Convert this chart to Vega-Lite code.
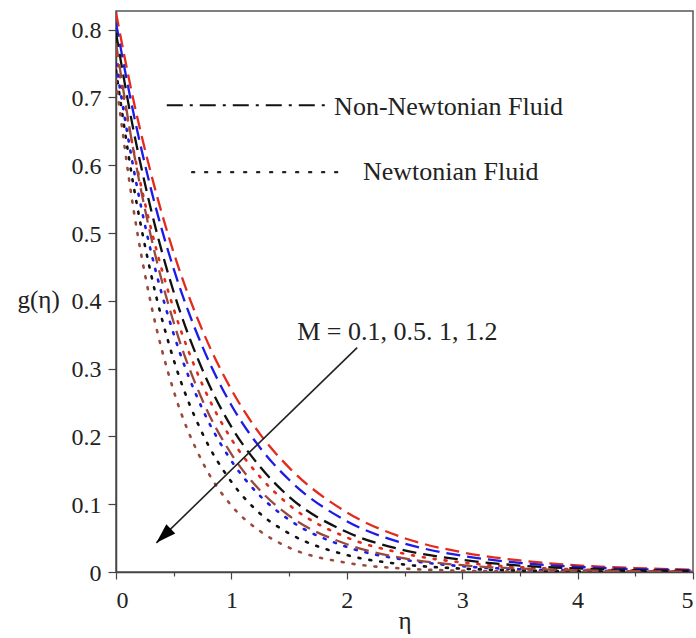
{
  "$schema": "https://vega.github.io/schema/vega-lite/v6.json",
  "width": 577,
  "height": 561,
  "autosize": {"type": "none"},
  "padding": {"left": 116, "top": 11, "right": 3, "bottom": 66},
  "background": "white",
  "config": {
    "view": {"stroke": "#555", "strokeWidth": 1.5},
    "font": "Liberation Serif, serif",
    "style": {"guide-label": {"font": "Liberation Serif, serif"}, "guide-title": {"font": "Liberation Serif, serif"}},
    "axis": {"grid": false, "domainColor": "#444", "domainWidth": 1.5, "tickColor": "#444", "tickWidth": 1.2, "labelColor": "#222", "titleColor": "#222", "labelFont": "Liberation Serif, serif", "titleFont": "Liberation Serif, serif", "labelFontSize": 24, "titleFontSize": 25, "titleFontWeight": "normal"},
    "axisX": {"labelFont": "Liberation Serif, serif", "titleFont": "Liberation Serif, serif"},
    "axisY": {"labelFont": "Liberation Serif, serif", "titleFont": "Liberation Serif, serif"}
  },
  "datasets": {
    "curves": [
      {"eta": 0, "g": 0.825, "M": "0.1", "fluid": "NN"},
      {"eta": 0.15, "g": 0.697, "M": "0.1", "fluid": "NN"},
      {"eta": 0.3, "g": 0.59, "M": "0.1", "fluid": "NN"},
      {"eta": 0.5, "g": 0.471, "M": "0.1", "fluid": "NN"},
      {"eta": 0.75, "g": 0.356, "M": "0.1", "fluid": "NN"},
      {"eta": 1, "g": 0.269, "M": "0.1", "fluid": "NN"},
      {"eta": 1.25, "g": 0.203, "M": "0.1", "fluid": "NN"},
      {"eta": 1.5, "g": 0.154, "M": "0.1", "fluid": "NN"},
      {"eta": 2, "g": 0.088, "M": "0.1", "fluid": "NN"},
      {"eta": 2.5, "g": 0.05, "M": "0.1", "fluid": "NN"},
      {"eta": 3, "g": 0.029, "M": "0.1", "fluid": "NN"},
      {"eta": 3.5, "g": 0.017, "M": "0.1", "fluid": "NN"},
      {"eta": 4, "g": 0.0098, "M": "0.1", "fluid": "NN"},
      {"eta": 4.5, "g": 0.0058, "M": "0.1", "fluid": "NN"},
      {"eta": 5, "g": 0.0035, "M": "0.1", "fluid": "NN"},

      {"eta": 0, "g": 0.81, "M": "0.5", "fluid": "NN"},
      {"eta": 0.15, "g": 0.678, "M": "0.5", "fluid": "NN"},
      {"eta": 0.3, "g": 0.567, "M": "0.5", "fluid": "NN"},
      {"eta": 0.5, "g": 0.447, "M": "0.5", "fluid": "NN"},
      {"eta": 0.75, "g": 0.332, "M": "0.5", "fluid": "NN"},
      {"eta": 1, "g": 0.246, "M": "0.5", "fluid": "NN"},
      {"eta": 1.25, "g": 0.183, "M": "0.5", "fluid": "NN"},
      {"eta": 1.5, "g": 0.136, "M": "0.5", "fluid": "NN"},
      {"eta": 2, "g": 0.075, "M": "0.5", "fluid": "NN"},
      {"eta": 2.5, "g": 0.042, "M": "0.5", "fluid": "NN"},
      {"eta": 3, "g": 0.024, "M": "0.5", "fluid": "NN"},
      {"eta": 3.5, "g": 0.0135, "M": "0.5", "fluid": "NN"},
      {"eta": 4, "g": 0.0076, "M": "0.5", "fluid": "NN"},
      {"eta": 4.5, "g": 0.0043, "M": "0.5", "fluid": "NN"},
      {"eta": 5, "g": 0.0024, "M": "0.5", "fluid": "NN"},

      {"eta": 0, "g": 0.795, "M": "1", "fluid": "NN"},
      {"eta": 0.15, "g": 0.653, "M": "1", "fluid": "NN"},
      {"eta": 0.3, "g": 0.537, "M": "1", "fluid": "NN"},
      {"eta": 0.5, "g": 0.413, "M": "1", "fluid": "NN"},
      {"eta": 0.75, "g": 0.298, "M": "1", "fluid": "NN"},
      {"eta": 1, "g": 0.214, "M": "1", "fluid": "NN"},
      {"eta": 1.25, "g": 0.155, "M": "1", "fluid": "NN"},
      {"eta": 1.5, "g": 0.111, "M": "1", "fluid": "NN"},
      {"eta": 2, "g": 0.059, "M": "1", "fluid": "NN"},
      {"eta": 2.5, "g": 0.032, "M": "1", "fluid": "NN"},
      {"eta": 3, "g": 0.018, "M": "1", "fluid": "NN"},
      {"eta": 3.5, "g": 0.0095, "M": "1", "fluid": "NN"},
      {"eta": 4, "g": 0.0052, "M": "1", "fluid": "NN"},
      {"eta": 4.5, "g": 0.0028, "M": "1", "fluid": "NN"},
      {"eta": 5, "g": 0.0015, "M": "1", "fluid": "NN"},

      {"eta": 0, "g": 0.78, "M": "1.2", "fluid": "NN"},
      {"eta": 0.15, "g": 0.623, "M": "1.2", "fluid": "NN"},
      {"eta": 0.3, "g": 0.497, "M": "1.2", "fluid": "NN"},
      {"eta": 0.5, "g": 0.368, "M": "1.2", "fluid": "NN"},
      {"eta": 0.75, "g": 0.253, "M": "1.2", "fluid": "NN"},
      {"eta": 1, "g": 0.174, "M": "1.2", "fluid": "NN"},
      {"eta": 1.25, "g": 0.12, "M": "1.2", "fluid": "NN"},
      {"eta": 1.5, "g": 0.083, "M": "1.2", "fluid": "NN"},
      {"eta": 2, "g": 0.041, "M": "1.2", "fluid": "NN"},
      {"eta": 2.5, "g": 0.02, "M": "1.2", "fluid": "NN"},
      {"eta": 3, "g": 0.01, "M": "1.2", "fluid": "NN"},
      {"eta": 3.5, "g": 0.005, "M": "1.2", "fluid": "NN"},
      {"eta": 4, "g": 0.0025, "M": "1.2", "fluid": "NN"},
      {"eta": 4.5, "g": 0.0012, "M": "1.2", "fluid": "NN"},
      {"eta": 5, "g": 0.0006, "M": "1.2", "fluid": "NN"},

      {"eta": 0, "g": 0.765, "M": "0.1", "fluid": "N"},
      {"eta": 0.15, "g": 0.624, "M": "0.1", "fluid": "N"},
      {"eta": 0.3, "g": 0.509, "M": "0.1", "fluid": "N"},
      {"eta": 0.5, "g": 0.388, "M": "0.1", "fluid": "N"},
      {"eta": 0.75, "g": 0.276, "M": "0.1", "fluid": "N"},
      {"eta": 1, "g": 0.196, "M": "0.1", "fluid": "N"},
      {"eta": 1.25, "g": 0.14, "M": "0.1", "fluid": "N"},
      {"eta": 1.5, "g": 0.099, "M": "0.1", "fluid": "N"},
      {"eta": 2, "g": 0.051, "M": "0.1", "fluid": "N"},
      {"eta": 2.5, "g": 0.027, "M": "0.1", "fluid": "N"},
      {"eta": 3, "g": 0.014, "M": "0.1", "fluid": "N"},
      {"eta": 3.5, "g": 0.0072, "M": "0.1", "fluid": "N"},
      {"eta": 4, "g": 0.0037, "M": "0.1", "fluid": "N"},
      {"eta": 4.5, "g": 0.0019, "M": "0.1", "fluid": "N"},
      {"eta": 5, "g": 0.001, "M": "0.1", "fluid": "N"},

      {"eta": 0, "g": 0.75, "M": "0.5", "fluid": "N"},
      {"eta": 0.15, "g": 0.597, "M": "0.5", "fluid": "N"},
      {"eta": 0.3, "g": 0.475, "M": "0.5", "fluid": "N"},
      {"eta": 0.5, "g": 0.351, "M": "0.5", "fluid": "N"},
      {"eta": 0.75, "g": 0.24, "M": "0.5", "fluid": "N"},
      {"eta": 1, "g": 0.164, "M": "0.5", "fluid": "N"},
      {"eta": 1.25, "g": 0.112, "M": "0.5", "fluid": "N"},
      {"eta": 1.5, "g": 0.077, "M": "0.5", "fluid": "N"},
      {"eta": 2, "g": 0.037, "M": "0.5", "fluid": "N"},
      {"eta": 2.5, "g": 0.018, "M": "0.5", "fluid": "N"},
      {"eta": 3, "g": 0.0085, "M": "0.5", "fluid": "N"},
      {"eta": 3.5, "g": 0.0041, "M": "0.5", "fluid": "N"},
      {"eta": 4, "g": 0.002, "M": "0.5", "fluid": "N"},
      {"eta": 4.5, "g": 0.001, "M": "0.5", "fluid": "N"},
      {"eta": 5, "g": 0.0005, "M": "0.5", "fluid": "N"},

      {"eta": 0, "g": 0.74, "M": "1", "fluid": "N"},
      {"eta": 0.15, "g": 0.572, "M": "1", "fluid": "N"},
      {"eta": 0.3, "g": 0.442, "M": "1", "fluid": "N"},
      {"eta": 0.5, "g": 0.313, "M": "1", "fluid": "N"},
      {"eta": 0.75, "g": 0.204, "M": "1", "fluid": "N"},
      {"eta": 1, "g": 0.133, "M": "1", "fluid": "N"},
      {"eta": 1.25, "g": 0.086, "M": "1", "fluid": "N"},
      {"eta": 1.5, "g": 0.057, "M": "1", "fluid": "N"},
      {"eta": 2, "g": 0.025, "M": "1", "fluid": "N"},
      {"eta": 2.5, "g": 0.011, "M": "1", "fluid": "N"},
      {"eta": 3, "g": 0.005, "M": "1", "fluid": "N"},
      {"eta": 3.5, "g": 0.0022, "M": "1", "fluid": "N"},
      {"eta": 4, "g": 0.001, "M": "1", "fluid": "N"},
      {"eta": 4.5, "g": 0.0004, "M": "1", "fluid": "N"},
      {"eta": 5, "g": 0.0002, "M": "1", "fluid": "N"},

      {"eta": 0, "g": 0.725, "M": "1.2", "fluid": "N"},
      {"eta": 0.15, "g": 0.537, "M": "1.2", "fluid": "N"},
      {"eta": 0.3, "g": 0.398, "M": "1.2", "fluid": "N"},
      {"eta": 0.5, "g": 0.267, "M": "1.2", "fluid": "N"},
      {"eta": 0.75, "g": 0.162, "M": "1.2", "fluid": "N"},
      {"eta": 1, "g": 0.098, "M": "1.2", "fluid": "N"},
      {"eta": 1.25, "g": 0.06, "M": "1.2", "fluid": "N"},
      {"eta": 1.5, "g": 0.036, "M": "1.2", "fluid": "N"},
      {"eta": 2, "g": 0.0135, "M": "1.2", "fluid": "N"},
      {"eta": 2.5, "g": 0.005, "M": "1.2", "fluid": "N"},
      {"eta": 3, "g": 0.0019, "M": "1.2", "fluid": "N"},
      {"eta": 3.5, "g": 0.0007, "M": "1.2", "fluid": "N"},
      {"eta": 4, "g": 0.0003, "M": "1.2", "fluid": "N"},
      {"eta": 4.5, "g": 0.0001, "M": "1.2", "fluid": "N"},
      {"eta": 5, "g": 0.0, "M": "1.2", "fluid": "N"}
    ],
    "legendLines": [
      {"x": 0.44, "x2": 1.86, "y": 0.6886, "kind": "NN"},
      {"x": 0.66, "x2": 1.96, "y": 0.5898, "kind": "N"}
    ],
    "labels": [
      {"x": 1.89, "y": 0.6736, "text": "Non-Newtonian Fluid"},
      {"x": 2.14, "y": 0.5777, "text": "Newtonian Fluid"},
      {"x": 1.57, "y": 0.342, "text": "M = 0.1, 0.5. 1, 1.2"}
    ],
    "arrow": [
      {"x": 2.09, "y": 0.331, "x2": 0.35, "y2": 0.043}
    ]
  },
  "layer": [
    {
      "data": {"name": "curves"},
      "transform": [{"filter": "datum.fluid === 'N'"}],
      "mark": {"type": "line", "interpolate": "monotone", "strokeDash": [2, 9], "strokeWidth": 2.6, "strokeCap": "round", "clip": true},
      "encoding": {
        "x": {"field": "eta", "type": "quantitative", "scale": {"domain": [0, 5], "nice": false, "zero": false},
          "axis": {"values": [0, 0.5, 1, 1.5, 2, 2.5, 3, 3.5, 4, 4.5, 5], "labelExpr": "datum.value % 1 === 0 ? format(datum.value, 'd') : ''", "tickSize": {"condition": {"test": "datum.value % 1 !== 0", "value": 4}, "value": 7}, "labelFont": "Liberation Serif, serif", "labelFontSize": 24, "labelBaseline": "alphabetic", "labelPadding": 28, "title": "η", "titleFont": "Liberation Serif, serif", "titleBaseline": "alphabetic", "titleY": 56}},
        "y": {"field": "g", "type": "quantitative", "scale": {"domain": [0, 0.8275], "nice": false, "zero": false},
          "axis": {"values": [0, 0.05, 0.1, 0.15, 0.2, 0.25, 0.3, 0.35, 0.4, 0.45, 0.5, 0.55, 0.6, 0.65, 0.7, 0.75, 0.8], "labelExpr": "abs(datum.value * 10 - round(datum.value * 10)) < 0.01 ? format(datum.value, '~g') : ''", "tickSize": {"condition": {"test": "abs(datum.value * 10 - round(datum.value * 10)) > 0.01", "value": 5}, "value": 8}, "labelFont": "Liberation Serif, serif", "labelFontSize": 24, "labelPadding": 7, "labelBaseline": "alphabetic", "labelOffset": 8, "title": "g(η)", "titleFont": "Liberation Serif, serif", "titleAngle": 0, "titleAlign": "left", "titleX": -99, "titleY": 296, "titleBaseline": "alphabetic"}},
        "color": {"field": "M", "type": "nominal", "scale": {"domain": ["0.1", "0.5", "1", "1.2"], "range": ["#e42a1a", "#1c1ce6", "#111111", "#9a4a3c"]}, "legend": null},
        "detail": {"field": "fluid"}
      }
    },
    {
      "data": {"name": "curves"},
      "transform": [{"filter": "datum.fluid === 'NN'"}],
      "mark": {"type": "line", "interpolate": "monotone", "strokeDash": [14, 7], "strokeWidth": 2.3, "clip": true},
      "encoding": {
        "x": {"field": "eta", "type": "quantitative"},
        "y": {"field": "g", "type": "quantitative"},
        "color": {"field": "M", "type": "nominal", "legend": null},
        "detail": {"field": "fluid"}
      }
    },
    {
      "data": {"name": "legendLines"},
      "transform": [{"filter": "datum.kind === 'NN'"}],
      "mark": {"type": "rule", "color": "#111", "strokeWidth": 2, "strokeDash": [16, 7, 3, 7]},
      "encoding": {
        "x": {"field": "x", "type": "quantitative"},
        "x2": {"field": "x2"},
        "y": {"field": "y", "type": "quantitative"}
      }
    },
    {
      "data": {"name": "legendLines"},
      "transform": [{"filter": "datum.kind === 'N'"}],
      "mark": {"type": "rule", "color": "#222", "strokeWidth": 2.4, "strokeDash": [2, 11], "strokeCap": "round"},
      "encoding": {
        "x": {"field": "x", "type": "quantitative"},
        "x2": {"field": "x2"},
        "y": {"field": "y", "type": "quantitative"}
      }
    },
    {
      "data": {"name": "labels"},
      "mark": {"type": "text", "align": "left", "baseline": "alphabetic", "font": "Liberation Serif", "fontSize": 26, "color": "#222"},
      "encoding": {
        "x": {"field": "x", "type": "quantitative"},
        "y": {"field": "y", "type": "quantitative"},
        "text": {"field": "text"}
      }
    },
    {
      "data": {"name": "arrow"},
      "mark": {"type": "rule", "color": "#222", "strokeWidth": 1.6},
      "encoding": {
        "x": {"field": "x", "type": "quantitative"},
        "y": {"field": "y", "type": "quantitative"},
        "x2": {"field": "x2"},
        "y2": {"field": "y2"}
      }
    },
    {
      "data": {"name": "arrow"},
      "mark": {"type": "point", "shape": "M0,0L0.32,1L-0.32,1Z", "filled": true, "color": "#000", "opacity": 1, "size": 1600, "angle": 226},
      "encoding": {
        "x": {"field": "x2", "type": "quantitative"},
        "y": {"field": "y2", "type": "quantitative"}
      }
    }
  ]
}
